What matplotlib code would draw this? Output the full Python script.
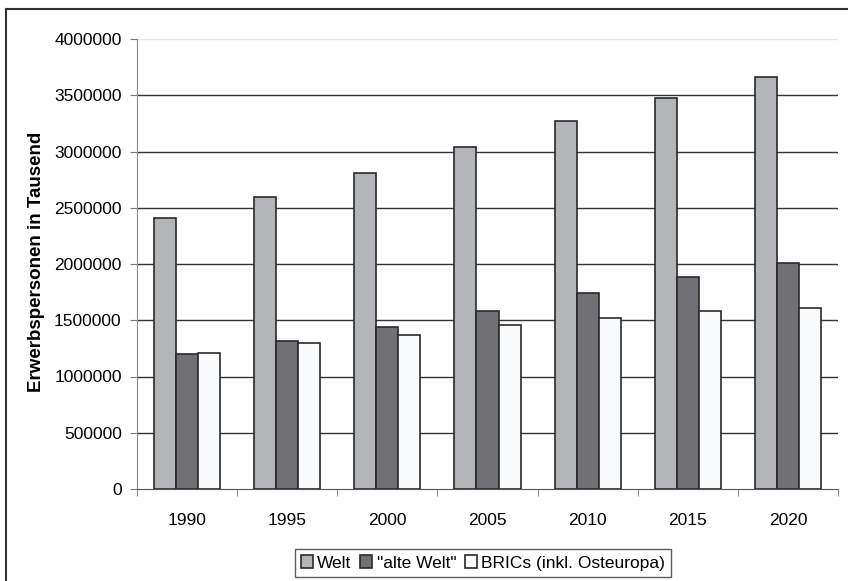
import matplotlib.pyplot as plt
import numpy as np
from matplotlib.lines import Line2D

plt.rcParams['font.family'] = ['Liberation Sans', 'DejaVu Sans']

# Data (Erwerbspersonen in Tausend)
years = ['1990', '1995', '2000', '2005', '2010', '2015', '2020']
welt = [2410000, 2598000, 2810000, 3040000, 3272000, 3480000, 3660000]
alte_welt = [1198000, 1313000, 1443000, 1585000, 1740000, 1884000, 2010000]
brics = [1213000, 1299000, 1372000, 1456000, 1523000, 1583000, 1612000]
y_ticks = [0, 500000, 1000000, 1500000, 2000000, 2500000, 3000000, 3500000, 4000000]

fig = plt.figure(figsize=(8.48, 5.81), dpi=100)
ax = fig.add_axes([137 / 848, 1 - 489 / 581, 701 / 848, 450 / 581])

x = np.arange(len(years))
w = 0.22
edge = '#2a2a2a'
ax.bar(x - w, welt, w, color='#b4b5b9', edgecolor=edge, linewidth=1.2, label='Welt', zorder=3)
ax.bar(x, alte_welt, w, color='#717075', edgecolor=edge, linewidth=1.2, label='"alte Welt"', zorder=3)
ax.bar(x + w, brics, w, color='#fafbfd', edgecolor=edge, linewidth=1.2, label='BRICs (inkl. Osteuropa)', zorder=3)

# gridlines
for t in y_ticks[1:]:
    c = '#e6e6e6' if t == y_ticks[-1] else '#333333'
    ax.axhline(t, color=c, linewidth=1, zorder=1)

ax.set_xlim(-0.5, len(years) - 0.5)
ax.set_ylim(0, 4000000)
ax.set_yticks(y_ticks)
ax.set_yticklabels([str(t) for t in y_ticks], fontsize=12.5)
ax.set_xticks(x)
ax.set_xticklabels(years, fontsize=12.5)
ax.set_xticks(np.arange(len(years) + 1) - 0.5, minor=True)
ax.tick_params(axis='x', which='major', length=0, pad=17)
ax.tick_params(axis='x', which='minor', length=5, color='#777777', direction='out')
ax.tick_params(axis='y', length=5, color='#777777', direction='out', pad=6)

for s in ['top', 'right']:
    ax.spines[s].set_visible(False)
ax.spines['left'].set_color('#8a8a8a')
ax.spines['bottom'].set_color('#555555')

ax.set_ylabel('Erwerbspersonen in Tausend', fontsize=13.5, fontweight='bold')
ax.yaxis.set_label_coords((45 - 137) / 701, (489 - 262) / 450)

leg = ax.legend(loc='center', bbox_to_anchor=(483 / 848, 1 - 563 / 581),
                bbox_transform=fig.transFigure, ncol=3, fontsize=12.5,
                frameon=True, fancybox=False, edgecolor='#333333',
                handlelength=0.7, handleheight=0.7, handletextpad=0.25,
                columnspacing=0.5, borderpad=0.35)
leg.get_frame().set_linewidth(1)

# outer frame (top and left edges)
fig.add_artist(Line2D([6 / 848, 1], [1 - 9 / 581, 1 - 9 / 581], color='#333333', linewidth=1.5))
fig.add_artist(Line2D([6 / 848, 6 / 848], [0, 1 - 9 / 581], color='#333333', linewidth=1.5))

fig.savefig('out.png', dpi=100)
